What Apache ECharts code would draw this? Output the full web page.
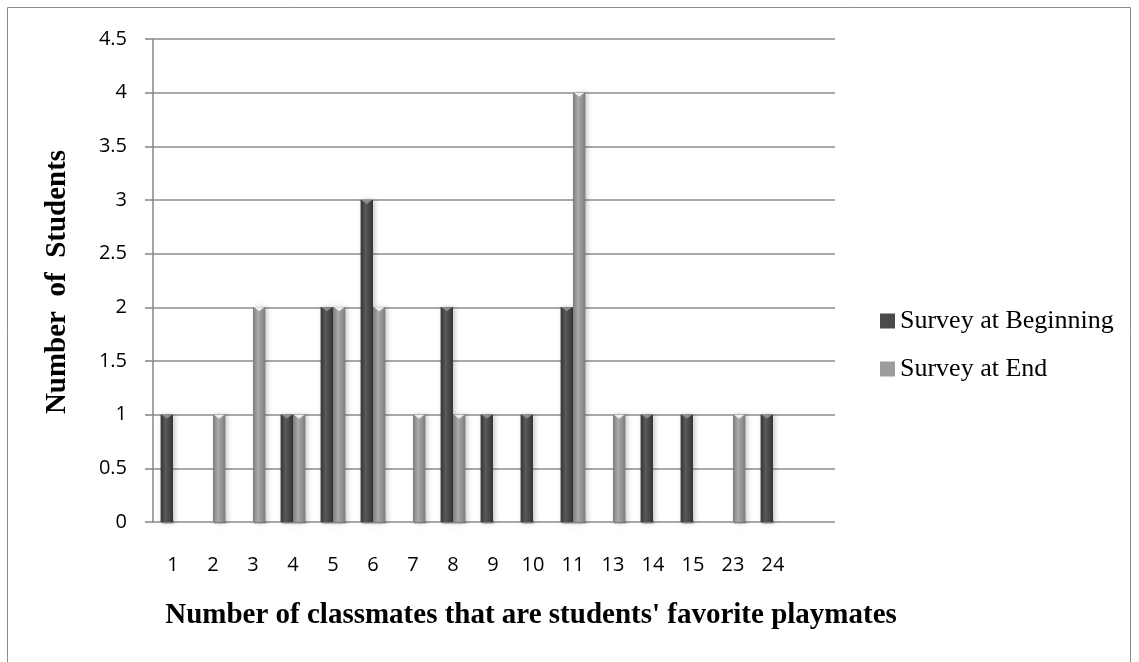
<!DOCTYPE html>
<html>
<head>
<meta charset="utf-8">
<script src="https://cdn.jsdelivr.net/npm/echarts@6/dist/echarts.min.js"></script>
<style>
  html, body { margin: 0; padding: 0; background: #fff; }
  #chart { width: 1139px; height: 662px; }
</style>
</head>
<body>
<div id="chart"></div>
<script>
// Favourite-playmate survey: how many classmates each student named
const categories = ['1', '2', '3', '4', '5', '6', '7', '8', '9', '10', '11', '13', '14', '15', '23', '24'];
const surveyBeginning = [1, 0, 0, 1, 2, 3, 0, 2, 1, 1, 2, 0, 1, 1, 0, 1];
const surveyEnd       = [0, 1, 2, 1, 2, 2, 1, 1, 0, 0, 4, 1, 0, 0, 1, 0];
const yTicks = { min: 0, max: 4.5, interval: 0.5 };

const chart = echarts.init(document.getElementById('chart'));

// Column with a cylindrical shade, soft base shadow and a small pyramid cap
function columnRenderer(side, shade) {
  return function (params, api) {
    const v = api.value(1);
    if (!v) return null;
    const top = api.coord([api.value(0), v]);
    const base = api.coord([api.value(0), 0]);
    const band = api.size([1, 0])[0];
    const w = band * 0.31;
    const x = side < 0 ? top[0] - w : top[0];
    const h = base[1] - top[1];
    return {
      type: 'group',
      children: [
        {
          type: 'rect',
          shape: { x: x + 1, y: base[1] - 3, width: w, height: 5 },
          style: { fill: 'rgba(0,0,0,0.18)', shadowBlur: 6, shadowColor: 'rgba(0,0,0,0.35)' }
        },
        {
          type: 'rect',
          shape: { x: x, y: top[1], width: w, height: h },
          style: {
            fill: new echarts.graphic.LinearGradient(0, 0, 1, 0, [
              { offset: 0, color: shade.edge },
              { offset: 0.4, color: shade.mid },
              { offset: 1, color: shade.edge }
            ]),
            shadowBlur: 5,
            shadowOffsetX: 2,
            shadowColor: 'rgba(0,0,0,0.22)'
          }
        },
        {
          type: 'polygon',
          shape: { points: [[x + 1, top[1]], [x + w - 1, top[1]], [x + w / 2, top[1] + 4]] },
          style: { fill: shade.cap }
        }
      ]
    };
  };
}

const darkShade = { edge: '#343434', mid: '#5a5a5a', cap: '#8e8e8e' };
const lightShade = { edge: '#7c7c7c', mid: '#ababab', cap: '#f0f0f0' };

const sansFont = '"Open Sans", "Noto Sans", sans-serif';
const serifFont = '"Liberation Serif", "DejaVu Serif", serif';

chart.setOption({
  animation: false,
  backgroundColor: '#fff',
  textStyle: { fontFamily: sansFont },
  graphic: [
    {
      type: 'rect',
      shape: { x: 7.5, y: 7.5, width: 1123, height: 700 },
      style: { fill: null, stroke: '#8a8a8a', lineWidth: 1 },
      silent: true
    },
    {
      type: 'text',
      x: 531, y: 616,
      style: {
        text: "Number of classmates that are students' favorite playmates",
        fontFamily: serifFont, fontWeight: 'bold', fontSize: 29, fill: '#000',
        align: 'center', verticalAlign: 'middle'
      }
    },
    {
      type: 'text',
      x: 58, y: 282, rotation: Math.PI / 2,
      style: {
        text: 'Number  of  Students',
        fontFamily: serifFont, fontWeight: 'bold', fontSize: 29, fill: '#000',
        align: 'center', verticalAlign: 'middle'
      }
    }
  ],
  legend: {
    orient: 'vertical',
    left: 875, top: 302,
    itemWidth: 15, itemHeight: 15, itemGap: 20,
    icon: 'rect',
    textStyle: { fontFamily: serifFont, fontSize: 26, lineHeight: 28, color: '#000' },
    data: ['Survey at Beginning', 'Survey at End']
  },
  grid: [
    { left: 153, right: 304, top: 39, bottom: 140 },
    { left: 153, width: 640, top: 39, bottom: 140 }
  ],
  xAxis: [
    { type: 'value', gridIndex: 0, show: false, min: 0, max: 1 },
    {
      type: 'category', gridIndex: 1, data: categories,
      axisLine: { show: false }, axisTick: { show: false },
      axisLabel: { margin: 33, fontSize: 20, color: '#000', fontFamily: sansFont }
    }
  ],
  yAxis: [
    {
      type: 'value', gridIndex: 0,
      min: yTicks.min, max: yTicks.max, interval: yTicks.interval,
      axisLine: { show: true, lineStyle: { color: '#868686', width: 1.5 } },
      axisTick: { show: true, length: 8, lineStyle: { color: '#868686', width: 1.5 } },
      axisLabel: { margin: 26, fontSize: 20, color: '#000', fontFamily: sansFont },
      splitLine: { show: true, lineStyle: { color: '#8c8c8c', width: 1.5 } }
    },
    {
      type: 'value', gridIndex: 1, show: false,
      min: yTicks.min, max: yTicks.max, interval: yTicks.interval,
      splitLine: { show: false }
    }
  ],
  series: [
    {
      name: 'Survey at Beginning',
      type: 'custom', xAxisIndex: 1, yAxisIndex: 1,
      itemStyle: { color: '#4a4a4a' },
      renderItem: columnRenderer(-1, darkShade),
      encode: { x: 0, y: 1 },
      data: surveyBeginning.map((v, i) => [i, v])
    },
    {
      name: 'Survey at End',
      type: 'custom', xAxisIndex: 1, yAxisIndex: 1,
      itemStyle: { color: '#9c9c9c' },
      renderItem: columnRenderer(1, lightShade),
      encode: { x: 0, y: 1 },
      data: surveyEnd.map((v, i) => [i, v])
    }
  ]
});
</script>
</body>
</html>
